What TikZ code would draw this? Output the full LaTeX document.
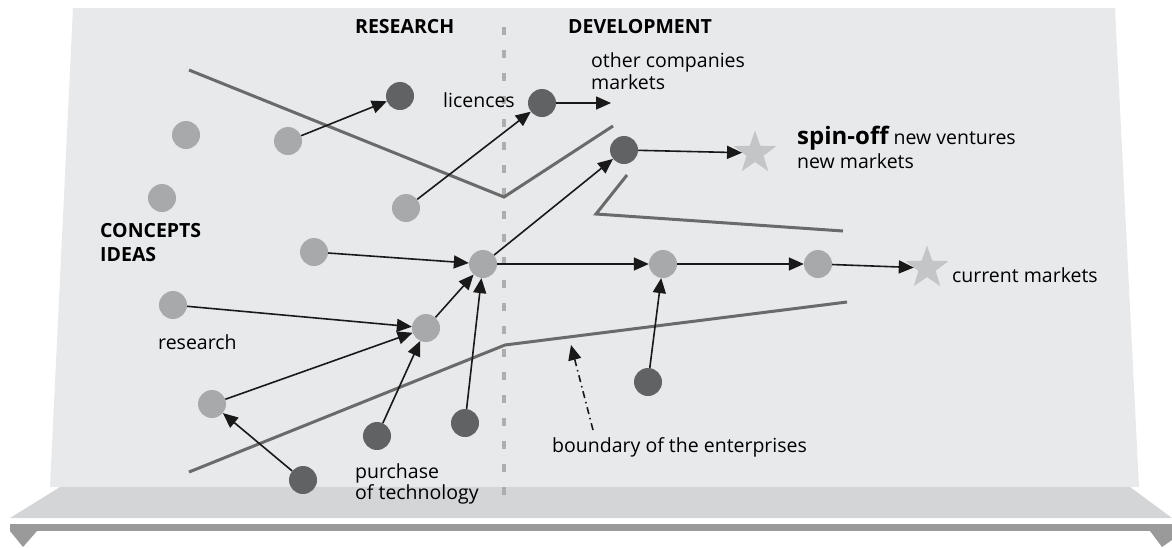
\documentclass[tikz,border=0pt]{standalone}
\usepackage{fontspec}
\setmainfont{Open Sans}
\usetikzlibrary{arrows.meta,shapes.geometric}
\definecolor{panelc}{HTML}{E8E9EB}
\definecolor{shelfc}{HTML}{D4D5D7}
\definecolor{barc}{HTML}{9A9A9A}
\definecolor{lightc}{HTML}{A8A9AB}
\definecolor{darkc}{HTML}{616264}
\definecolor{linec}{HTML}{6A6A6A}
\definecolor{starc}{HTML}{C4C5C7}
\definecolor{dashc}{HTML}{AEAEAE}
\tikzset{
  lt/.style={circle,fill=lightc,minimum size=28pt,inner sep=0pt},
  dk/.style={circle,fill=darkc,minimum size=28pt,inner sep=0pt},
  mstar/.style={star,star points=5,star point ratio=2.5,fill=starc,minimum size=45pt,inner sep=0pt},
  conn/.style={line width=1.6pt,-{Triangle[length=15pt,width=13pt]},black!90},
  bnd/.style={line width=3pt,linec},
  lbl/.style={anchor=base west,inner sep=0pt,font=\fontsize{19.5}{23}\selectfont},
  hd/.style={anchor=base west,inner sep=0pt,font=\fontsize{19.5}{23}\selectfont\bfseries}
}
\begin{document}
\begin{tikzpicture}[x=1pt,y=-1pt]
\useasboundingbox (0,0) rectangle (1172,547);
% panel and shelf
\fill[panelc] (73,8) -- (1115,8) -- (1139,487) -- (50,487) -- cycle;
\fill[shelfc] (60,487) -- (1130,487) -- (1172,518) -- (10,518) -- cycle;
\fill[barc] (10,524) rectangle (1172,531);
\fill[barc] (10,531) -- (37,531) -- (23,547) -- cycle;
\fill[barc] (1150,531) -- (1172,531) -- (1172,540) -- (1162,547) -- cycle;
% research / development divider
\draw[dashc,line width=4pt,dash pattern=on 8pt off 15pt] (504,27) -- (504,502);
% boundaries
\draw[bnd] (189,70) -- (504,197) -- (613,126);
\draw[bnd] (627,175) -- (596,214) -- (843,231);
\draw[bnd] (189,472) -- (505,345) -- (847,302);
% circles
\node[lt] (A) at (186,135) {};
\node[lt] (B) at (288,141) {};
\node[dk] (C) at (400,96) {};
\node[lt] (D) at (162,198) {};
\node[lt] (E) at (314,252) {};
\node[lt] (F) at (173,305) {};
\node[lt] (G) at (212,404) {};
\node[dk] (H) at (303,480) {};
\node[dk] (I) at (377,436) {};
\node[lt] (P) at (406,208) {};
\node[dk] (J) at (542,103) {};
\node[dk] (K) at (624,150) {};
\node[lt] (L) at (483,264) {};
\node[lt] (Q) at (426,328) {};
\node[dk] (R) at (465,423) {};
\node[lt] (M) at (663,264) {};
\node[lt] (N) at (818,264) {};
\node[dk] (S) at (648,382) {};
\node[mstar] (S1) at (755,153) {};
\node[mstar] (S2) at (927,268) {};
\coordinate (jend) at (611,103);
\coordinate (bstart) at (593,430);
\coordinate (btip) at (571,345);
% connectors
\draw[conn] (B) -- (C);
\draw[conn] (P) -- (J);
\draw[conn] (J) -- (jend);
\draw[conn] (K) -- (S1);
\draw[conn] (L) -- (K);
\draw[conn] (E) -- (L);
\draw[conn] (L) -- (M);
\draw[conn] (M) -- (N);
\draw[conn] (N) -- (S2);
\draw[conn] (Q) -- (L);
\draw[conn] (R) -- (L);
\draw[conn] (F) -- (Q);
\draw[conn] (G) -- (Q);
\draw[conn] (I) -- (Q);
\draw[conn] (H) -- (G);
\draw[conn] (S) -- (M);
\draw[line width=1.6pt,black!90,dash pattern=on 7pt off 4pt on 1.5pt off 4pt,-{Triangle[length=15pt,width=13pt]}] (bstart) -- (btip);
% labels
\node[hd] (tres) at (355,33) {RESEARCH};
\node[hd] (tdev) at (568,33) {DEVELOPMENT};
\node[lbl] (toc1) at (591,67) {other companies};
\node[lbl] (toc2) at (591,89) {markets};
\node[lbl] (tlic) at (443,107) {licences};
\node[lbl] (tspin) at (797,144) {{\fontsize{24}{27}\selectfont\bfseries spin-off} new ventures};
\node[lbl] (tnm) at (797,168) {new markets};
\node[hd] (tcon) at (100,237) {CONCEPTS};
\node[hd] (tide) at (100,261) {IDEAS};
\node[lbl] (tresearch) at (158,349) {research};
\node[lbl] (tpur1) at (355,478) {purchase};
\node[lbl] (tpur2) at (355,499) {of technology};
\node[lbl] (tbound) at (552,452) {boundary of the enterprises};
\node[lbl] (tcur) at (952,282) {current markets};
\end{tikzpicture}
\end{document}
